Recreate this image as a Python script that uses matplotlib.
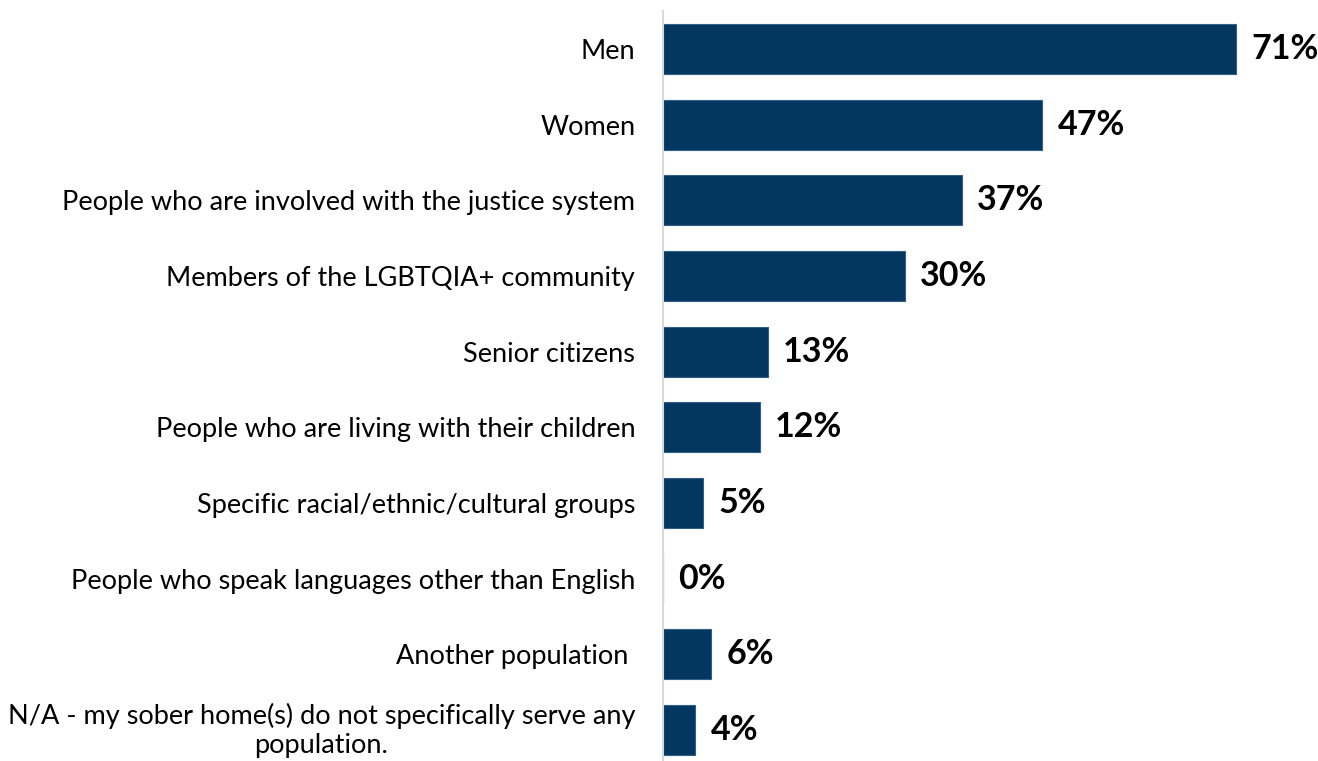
import matplotlib
matplotlib.use("Agg")
import matplotlib.pyplot as plt

plt.rcParams['font.family'] = ['Lato', 'DejaVu Sans']

categories = [
    "Men",
    "Women",
    "People who are involved with the justice system",
    "Members of the LGBTQIA+ community",
    "Senior citizens",
    "People who are living with their children",
    "Specific racial/ethnic/cultural groups",
    "People who speak languages other than English",
    "Another population ",
    "N/A - my sober home(s) do not specifically serve any\npopulation.",
]
values = [71, 47, 37, 30, 13, 12, 5, 0, 6, 4]
value_labels = [f"{v}%" for v in values]

W, H = 1318, 761
fig = plt.figure(figsize=(W / 100, H / 100), dpi=100)
ax = fig.add_axes([663 / W, 1 - 767.8 / H, 645.6 / W, 756.6 / H])

ypos = list(range(len(categories)))
ax.barh(ypos, values, height=0.66, color="#03375F",
        edgecolor="#2F5F8A", linewidth=0.8)

ax.set_xlim(0, 80)
ax.set_ylim(len(categories) - 0.5, -0.5)

ax.set_yticks(ypos)
ticklabels = ax.set_yticklabels(categories, fontsize=19.5, color="#000000",
                                multialignment="center", linespacing=1.2)
# wrapped labels are centred on their bar as a block
for tl, name in zip(ticklabels, categories):
    if "\n" in name:
        tl.set_va("center")
ax.tick_params(axis="y", length=0, pad=20)
ax.set_xticks([])

for s in ["top", "right", "bottom"]:
    ax.spines[s].set_visible(False)
ax.spines["left"].set_color("#D9D9D9")
ax.spines["left"].set_linewidth(1.5)
ax.spines["left"].set_zorder(3)

for y, v, lab in zip(ypos, values, value_labels):
    ax.annotate(lab, xy=(v, y), xytext=(11, 0), textcoords="offset points",
                ha="left", va="center", fontsize=24.5, fontweight="bold",
                color="#000000")

fig.savefig("out.png", dpi=100)
